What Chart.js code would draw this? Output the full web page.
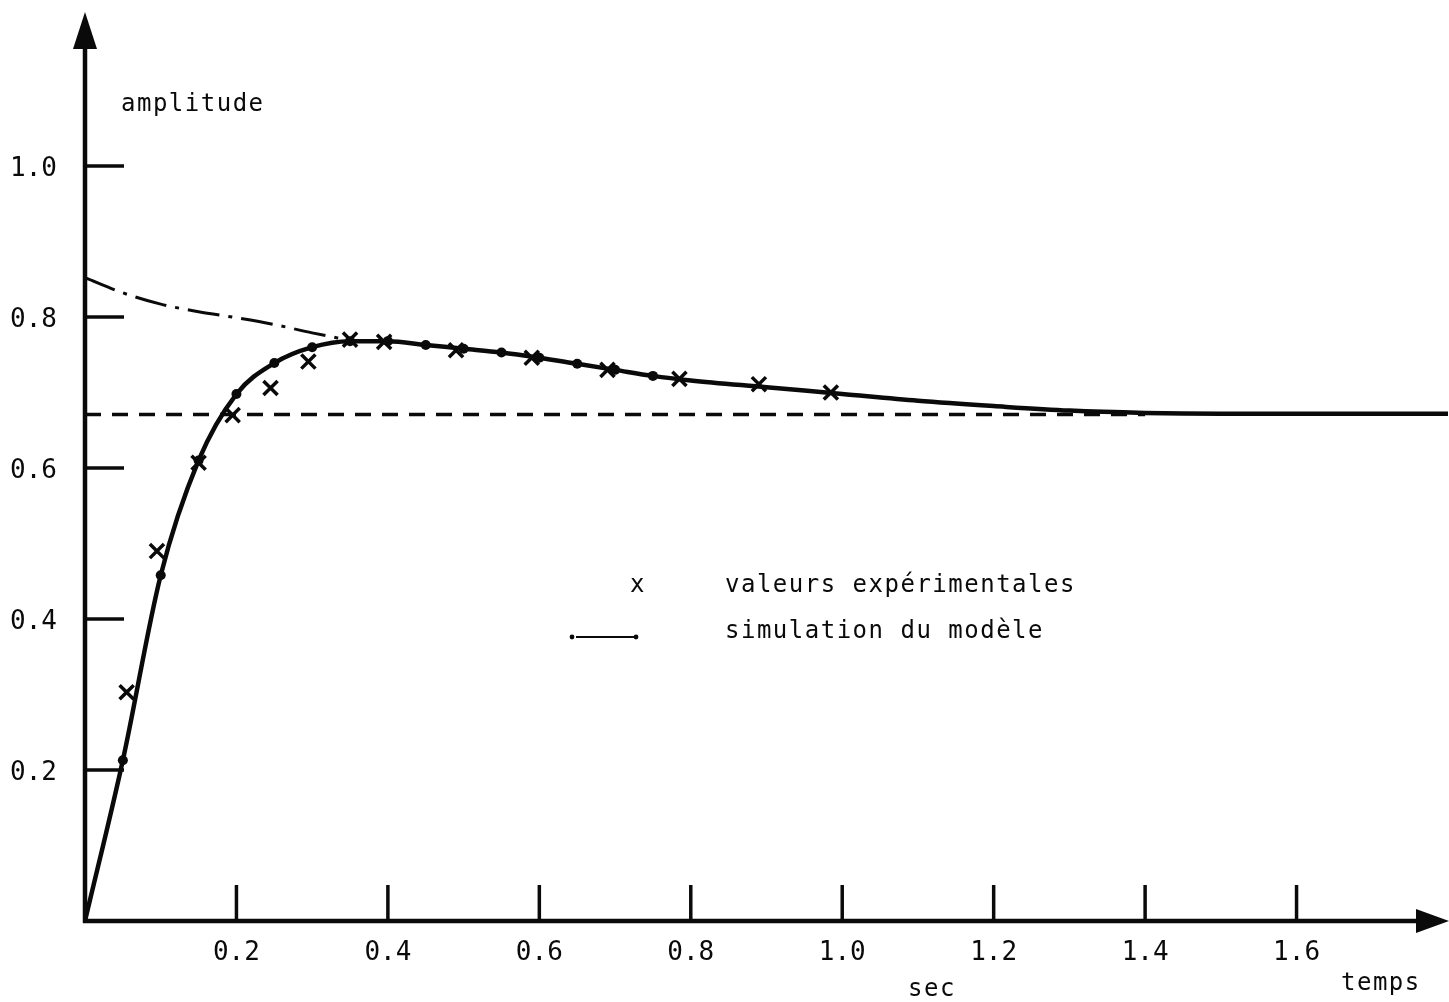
<!DOCTYPE html>
<html>
<head>
<meta charset="utf-8">
<script src="https://cdn.jsdelivr.net/npm/chart.js@4.4.0/dist/chart.umd.min.js"></script>
<style>
  html, body { margin: 0; padding: 0; background: #fff; }
  canvas { display: block; }
</style>
</head>
<body>
<canvas id="reponse" width="1449" height="1002"></canvas>
<script>
// Simulated response of the model (solid line, dots every 0.05 s)
const simT = [0, 0.05, 0.1, 0.15, 0.2, 0.25, 0.3, 0.35, 0.4, 0.45, 0.5, 0.55, 0.6, 0.65, 0.7, 0.75,
  0.8, 0.9, 1.0, 1.1, 1.2, 1.3, 1.4, 1.5, 1.6, 1.7, 1.8];
const simY = [0, 0.213, 0.458, 0.61, 0.698, 0.739, 0.760, 0.768, 0.768, 0.763, 0.758, 0.753, 0.746, 0.738, 0.730, 0.722,
  0.716, 0.707, 0.698, 0.689, 0.682, 0.676, 0.673, 0.672, 0.672, 0.672, 0.672];

// Experimental values (crosses)
const expT = [0.055, 0.095, 0.15, 0.195, 0.245, 0.295, 0.35, 0.395, 0.49, 0.59, 0.69, 0.785, 0.89, 0.985];
const expY = [0.303, 0.49, 0.607, 0.67, 0.706, 0.741, 0.770, 0.767, 0.756, 0.746, 0.730, 0.718, 0.711, 0.700];

// Initial part of the model (dash-dot)
const initT = [0, 0.05, 0.1, 0.15, 0.2, 0.25, 0.3, 0.35];
const initY = [0.852, 0.832, 0.817, 0.807, 0.799, 0.790, 0.779, 0.769];

// Steady state level (dashed)
const finalT = [0, 1.4];
const finalY = [0.671, 0.671];

const xTicks = [0.2, 0.4, 0.6, 0.8, 1.0, 1.2, 1.4, 1.6];
const yTicks = [0.2, 0.4, 0.6, 0.8, 1.0];

const ink = '#0a0a0a';
const mono = '"DejaVu Sans Mono", "Liberation Mono", monospace';

const toPoints = (xs, ys) => xs.map((v, i) => ({ x: v, y: ys[i] }));

// axes with arrows, hand-drawn style ticks and all the labels
const axesPlugin = {
  id: 'axesMain',
  afterDatasetsDraw(chart) {
    const { ctx, scales: { x, y } } = chart;
    const x0 = x.getPixelForValue(0);
    const y0 = y.getPixelForValue(0);
    ctx.save();
    ctx.strokeStyle = ink;
    ctx.fillStyle = ink;

    // axes
    ctx.lineWidth = 4.5;
    ctx.beginPath();
    ctx.moveTo(x0, y0 + 2);
    ctx.lineTo(x0, 40);
    ctx.moveTo(x0 - 2, y0);
    ctx.lineTo(1422, y0);
    ctx.stroke();
    // arrow heads
    ctx.beginPath();
    ctx.moveTo(x0, 12);
    ctx.lineTo(x0 - 12, 49);
    ctx.lineTo(x0 + 12, 49);
    ctx.closePath();
    ctx.fill();
    ctx.beginPath();
    ctx.moveTo(1449, y0);
    ctx.lineTo(1416, y0 - 12);
    ctx.lineTo(1416, y0 + 12);
    ctx.closePath();
    ctx.fill();

    // ticks
    ctx.lineWidth = 3.5;
    ctx.font = '26px ' + mono;
    ctx.textBaseline = 'alphabetic';
    yTicks.forEach(v => {
      const py = y.getPixelForValue(v);
      ctx.beginPath();
      ctx.moveTo(x0, py);
      ctx.lineTo(x0 + 39, py);
      ctx.stroke();
      ctx.textAlign = 'right';
      ctx.fillText(v.toFixed(1), x0 - 28, py + 10);
    });
    xTicks.forEach(v => {
      const px = x.getPixelForValue(v);
      ctx.beginPath();
      ctx.moveTo(px, y0);
      ctx.lineTo(px, y0 - 36);
      ctx.stroke();
      ctx.textAlign = 'center';
      ctx.fillText(v.toFixed(1), px, y0 + 39);
    });

    // words
    ctx.font = '24px ' + mono;
    ctx.letterSpacing = '1.5px';
    ctx.textAlign = 'left';
    ctx.fillText('amplitude', 121, 111);
    ctx.fillText('temps', 1341, 990);
    ctx.fillText('sec', 908, 996);

    // legend
    ctx.fillText('x', 630, 592);
    ctx.fillText('valeurs expérimentales', 725, 592);
    ctx.fillText('simulation du modèle', 725, 638);
    ctx.lineWidth = 2;
    ctx.beginPath();
    ctx.moveTo(576, 637);
    ctx.lineTo(634, 637);
    ctx.stroke();
    [572, 636].forEach(px => {
      ctx.beginPath();
      ctx.arc(px, 637, 2.4, 0, Math.PI * 2);
      ctx.fill();
    });
    ctx.restore();
  }
};

new Chart(document.getElementById('reponse'), {
  type: 'scatter',
  data: {
    datasets: [
      {
        label: 'palier',
        data: toPoints(finalT, finalY),
        showLine: true,
        borderColor: ink,
        borderWidth: 3.5,
        borderDash: [16, 11],
        pointRadius: 0
      },
      {
        label: 'début',
        data: toPoints(initT, initY),
        showLine: true,
        borderColor: ink,
        borderWidth: 3,
        borderDash: [32, 9, 4, 9],
        cubicInterpolationMode: 'monotone',
        pointRadius: 0
      },
      {
        label: 'simulation du modèle',
        data: toPoints(simT, simY),
        showLine: true,
        borderColor: ink,
        backgroundColor: ink,
        borderWidth: 4.5,
        cubicInterpolationMode: 'monotone',
        pointRadius: simT.map((t, i) => (i >= 1 && i <= 15) ? 5 : 0),
        pointBorderWidth: 0
      },
      {
        label: 'valeurs expérimentales',
        data: toPoints(expT, expY),
        showLine: false,
        pointStyle: 'crossRot',
        pointRadius: 10,
        pointBorderWidth: 3.5,
        pointBorderColor: ink
      }
    ]
  },
  options: {
    responsive: false,
    animation: false,
    layout: { autoPadding: false, padding: { left: 85, right: 1, top: 15, bottom: 81 } },
    plugins: {
      legend: { display: false },
      tooltip: { enabled: false }
    },
    scales: {
      x: { type: 'linear', min: 0, max: 1.8, display: false },
      y: { type: 'linear', min: 0, max: 1.2, display: false }
    }
  },
  plugins: [axesPlugin]
});
</script>
</body>
</html>
